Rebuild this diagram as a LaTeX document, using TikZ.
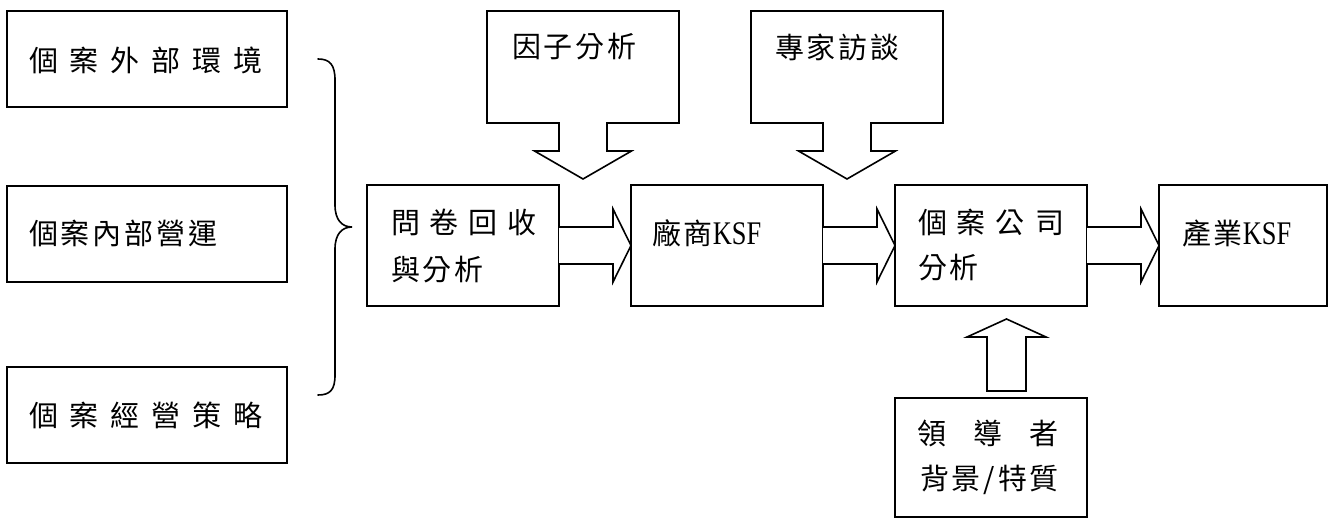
\documentclass[tikz,border=0pt]{standalone}
\usepackage{fontspec}
\newfontfamily\cjk{Noto Sans CJK TC}[LetterSpace=10]
\newfontfamily\ksf{Liberation Serif}[FakeStretch=0.8]
\usetikzlibrary{calc}
\newcommand\tsz{\fontsize{29}{34}\selectfont}
\newcommand\latinpart[1]{{\ksf\fontsize{33}{38}\selectfont #1}}
\newcommand\rightblk[2]{%
  \draw[blk] ($(#1.east)+(0,-18.5)$) -- ($(#2.west)+(-18,-18.5)$) -- ($(#2.west)+(-18,-36.5)$) -- (#2.west) -- ($(#2.west)+(-18,36.5)$) -- ($(#2.west)+(-18,18.5)$) -- ($(#1.east)+(0,18.5)$);}
\newcommand\downblk[1]{%
  \draw[blk] ($(#1.south)+(-24,-0.9)$) -- ($(#1.south)+(-24,28)$) -- ($(#1.south)+(-48.5,28)$) -- ($(#1.south)+(0,56)$) -- ($(#1.south)+(48.5,28)$) -- ($(#1.south)+(24,28)$) -- ($(#1.south)+(24,-0.9)$);}
\begin{document}
\begin{tikzpicture}[x=1pt,y=-1pt,
  bx/.style={draw, line width=1.6pt, inner sep=0pt, outer sep=0pt, anchor=north west},
  lbl/.style={anchor=west, inner sep=0pt, outer sep=0pt, font=\cjk\tsz},
  blk/.style={draw, line width=1.6pt, fill=white, line join=miter},
  brc/.style={draw, line width=1.6pt, line cap=round}]
\useasboundingbox (0,0) rectangle (1332,518);
% boxes
\node[bx, minimum width=280pt, minimum height=96pt] (L1) at (7,11) {};
\node[bx, minimum width=280pt, minimum height=96pt] (L2) at (7,186) {};
\node[bx, minimum width=280pt, minimum height=96pt] (L3) at (7,367) {};
\node[bx, minimum width=192pt, minimum height=121pt] (Q) at (367,185) {};
\node[bx, minimum width=192pt, minimum height=121pt] (F) at (631,185) {};
\node[bx, minimum width=192pt, minimum height=121pt] (C) at (895,185) {};
\node[bx, minimum width=168pt, minimum height=121pt] (I) at (1159,185) {};
\node[bx, minimum width=192pt, minimum height=112pt] (FA) at (487,11) {};
\node[bx, minimum width=192pt, minimum height=112pt] (EX) at (751,11) {};
\node[bx, minimum width=192pt, minimum height=119pt] (LD) at (895,398) {};
% labels
\node[lbl, font={\cjk\tsz\spaceskip=12pt\relax}] (tL1) at (29,60) {個 案 外 部 環 境};
\node[lbl] (tL2) at (29,233) {個案內部營運};
\node[lbl, font={\cjk\tsz\spaceskip=12pt\relax}] (tL3) at (29,415) {個 案 經 營 策 略};
\node[lbl] (tFA) at (512,47) {因子分析};
\node[lbl] (tEX) at (775,47) {專家訪談};
\node[lbl, font={\cjk\tsz\spaceskip=9.8pt\relax}] (tQ1) at (391,222) {問 卷 回 收};
\node[lbl] (tQ2) at (391,270) {與分析};
\node[lbl] (tF) at (652,233) {廠商\latinpart{KSF}};
\node[lbl, font={\cjk\tsz\spaceskip=10pt\relax}] (tC1) at (918,222) {個 案 公 司};
\node[lbl] (tC2) at (918,268) {分析};
\node[lbl] (tI) at (1182,233) {產業\latinpart{KSF}};
\node[lbl, font={\cjk\tsz\spaceskip=27pt\relax}] (tLD1) at (917,433) {領 導 者};
\node[lbl] (tLD2) at (920,480) {背景/特質};
% brace
\draw[brc] (318,59) .. controls (330,59) and (335,65) .. (335,80) -- (335,205)
  .. controls (335,220) and (342,227) .. (352,227)
  .. controls (342,227) and (335,234) .. (335,249) -- (335,375)
  .. controls (335,390) and (330,395) .. (318,395);
% block arrows
\rightblk{Q}{F}
\rightblk{F}{C}
\rightblk{C}{I}
\downblk{FA}
\downblk{EX}
\coordinate (ub) at ($(LD.north)+(15.5,-7)$);
\draw[blk] ($(ub)+(-19.5,0)$) -- ++(0,-54) -- ++(-20,0) -- ($(ub)+(0,-72)$) -- ($(ub)+(39.5,-54)$) -- ++(-20,0) -- ($(ub)+(19.5,0)$) -- cycle;
\end{tikzpicture}
\end{document}
